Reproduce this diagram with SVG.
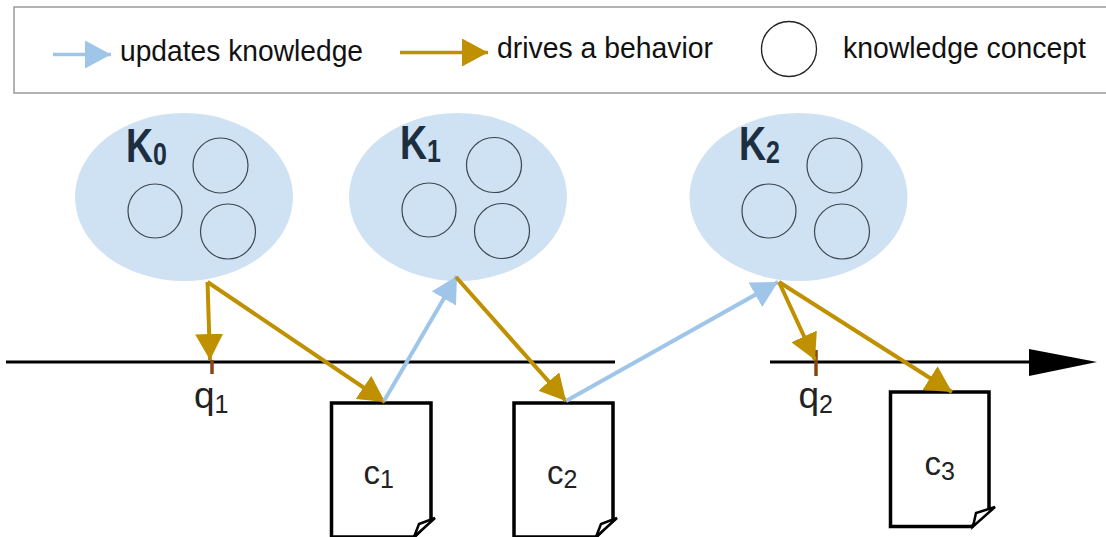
<svg xmlns="http://www.w3.org/2000/svg" width="1106" height="537" viewBox="0 0 1106 537">
<style>
text{font-family:"Liberation Sans",Arial,sans-serif;fill:#111}
.leg{font-size:30px}
.lab{font-size:37px;fill:#222}
.lc{font-size:33px;fill:#222}
.sub{font-size:25px}
.k{font-size:48px;font-weight:bold;fill:#1c2e40}
.ksub{font-size:32px;font-weight:bold;fill:#1c2e40}
.blob{fill:#cfe2f3}
.c{fill:none;stroke:#3a4650;stroke-width:1.2}
.gold{stroke:#bf9000;stroke-width:4;fill:none}
.blue{stroke:#9fc5e8;stroke-width:4;fill:none}
.doc{fill:#fff;stroke:#000;stroke-width:3.5}
.fold{fill:#fff;stroke:#000;stroke-width:2.5;stroke-linejoin:miter}
.tick{stroke:#8b4513;stroke-width:3.5}
.ax{stroke:#000;stroke-width:3.2}
</style>
<defs>
<marker id="ag" markerUnits="userSpaceOnUse" markerWidth="28" markerHeight="28" refX="26" refY="14" orient="auto"><path d="M0 0L26 14L0 28Z" fill="#bf9000"/></marker>
<marker id="ab" markerUnits="userSpaceOnUse" markerWidth="28" markerHeight="28" refX="26" refY="14" orient="auto"><path d="M0 0L26 14L0 28Z" fill="#9fc5e8"/></marker>
</defs>
<g id="legend">
<rect x="14" y="7" width="1100" height="86" fill="#fff" stroke="#999" stroke-width="1.5"/>
<line class="blue" x1="53" y1="54.500" x2="111" y2="54.500" marker-end="url(#ab)" style="stroke-width:3.5"/>
<text class="leg" x="120" y="61" textLength="243" lengthAdjust="spacingAndGlyphs">updates knowledge</text>
<line class="gold" x1="400" y1="52.500" x2="488" y2="52.500" marker-end="url(#ag)" style="stroke-width:3.500"/>
<text class="leg" x="497" y="58" textLength="216" lengthAdjust="spacingAndGlyphs">drives a behavior</text>
<circle cx="789" cy="49" r="27.500" fill="#fff" stroke="#222" stroke-width="1.300"/>
<text class="leg" x="843" y="58" textLength="243" lengthAdjust="spacingAndGlyphs">knowledge concept</text>
</g>
<g id="k0">
<ellipse class="blob" cx="184" cy="197" rx="109" ry="84"/>
<circle class="c" cx="220.500" cy="165.500" r="27.500"/><circle class="c" cx="155" cy="211" r="27"/><circle class="c" cx="228" cy="231.500" r="27.500"/>
<text class="k" transform="translate(126 162) scale(.78 1)">K<tspan class="ksub" dy="3">0</tspan></text>
</g>
<g id="k1">
<ellipse class="blob" cx="458" cy="197" rx="109" ry="84"/>
<circle class="c" cx="494" cy="165" r="27.500"/><circle class="c" cx="429" cy="210" r="27"/><circle class="c" cx="502" cy="231" r="27.500"/>
<text class="k" transform="translate(400 159) scale(.78 1)">K<tspan class="ksub" dy="3">1</tspan></text>
</g>
<g id="k2">
<ellipse class="blob" cx="798.500" cy="197" rx="109" ry="84"/>
<circle class="c" cx="834.500" cy="165.500" r="27.500"/><circle class="c" cx="769" cy="211" r="27"/><circle class="c" cx="842" cy="231.500" r="27.500"/>
<text class="k" transform="translate(739 160) scale(.78 1)">K<tspan class="ksub" dy="3">2</tspan></text>
</g>
<g id="axis">
<line class="ax" x1="6" y1="362" x2="615" y2="362"/>
<line class="ax" x1="770" y1="362" x2="1032" y2="362"/>
<path d="M1029 349L1097 362L1029 376Z" fill="#000"/>
</g>
<g id="q1">
<line class="tick" x1="212" y1="360" x2="212" y2="374"/>
<text class="lab" x="194" y="408">q<tspan class="sub" dy="5">1</tspan></text>
</g>
<g id="q2">
<line class="tick" x1="816" y1="350" x2="816" y2="376"/>
<text class="lab" x="798.500" y="408">q<tspan class="sub" dy="5">2</tspan></text>
</g>
<g id="c1">
<path class="doc" d="M331.500 403H431V520L414 537H331.500Z"/>
<path class="fold" d="M414 537L419 524L435 518Z"/>
<text class="lc" x="363.500" y="484">c<tspan class="sub" dy="4">1</tspan></text>
</g>
<g id="c2">
<path class="doc" d="M514 403H613V520L596 537H514Z"/>
<path class="fold" d="M596 537L601 524L617 518Z"/>
<text class="lc" x="547" y="484">c<tspan class="sub" dy="4">2</tspan></text>
</g>
<g id="c3">
<path class="doc" d="M890.500 392H989V509L972 526.500H890.500Z"/>
<path class="fold" d="M973 526.500L976 513L995 507Z"/>
<text class="lc" x="924.500" y="475">c<tspan class="sub" dy="5">3</tspan></text>
</g>
<g id="connectors">
<line class="gold" x1="207.500" y1="282" x2="210" y2="360" marker-end="url(#ag)"/>
<line class="gold" x1="207.500" y1="282" x2="385" y2="402" marker-end="url(#ag)"/>
<line class="blue" x1="384" y1="401" x2="457" y2="276" marker-end="url(#ab)"/>
<line class="gold" x1="456" y1="277" x2="566" y2="401" marker-end="url(#ag)"/>
<line class="blue" x1="566" y1="401" x2="778" y2="282" marker-end="url(#ab)"/>
<line class="gold" x1="779" y1="282" x2="815" y2="360" marker-end="url(#ag)"/>
<line class="gold" x1="779" y1="282" x2="952" y2="392" marker-end="url(#ag)"/>
</g>
</svg>
